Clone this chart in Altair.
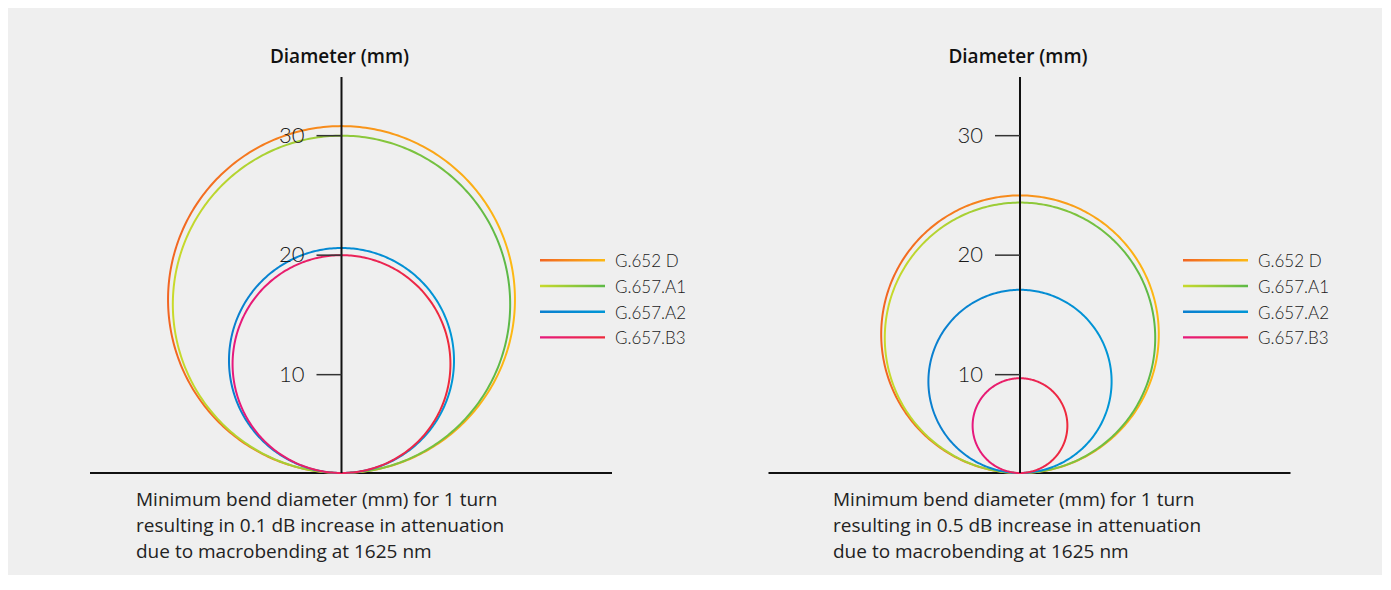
import altair as alt
import pandas as pd
import numpy as np

# ---- data ----
series = ["G.652 D", "G.657.A1", "G.657.A2", "G.657.B3"]
diam_01db = [30.8, 30.0, 20.6, 20.0]   # 0.1 dB panel (mm)
diam_05db = [25.0, 24.4, 17.1, 9.7]    # 0.5 dB panel (mm)
tick_values = [10, 20, 30]
axis_title = "Diameter (mm)"
caption_01 = ["Minimum bend diameter (mm) for 1 turn",
              "resulting in 0.1 dB increase in attenuation",
              "due to macrobending at 1625 nm"]
caption_05 = ["Minimum bend diameter (mm) for 1 turn",
              "resulting in 0.5 dB increase in attenuation",
              "due to macrobending at 1625 nm"]

# ---- styling ----
gradients = {
    "G.652 D": ("#f26522", "#fdb913"),
    "G.657.A1": ("#c9da2b", "#5cb947"),
    "G.657.A2": ("#0a7fcf", "#0096d6"),
    "G.657.B3": ("#e6197d", "#ee2a3c"),
}
BASE = 1.77
Y_DOMAIN = [BASE, 34.91]
X_DOMAIN = [-21.046, 22.636]
W, H = 522, 396
AXIS_PX = -X_DOMAIN[0] * W / (X_DOMAIN[1] - X_DOMAIN[0])
angles = np.linspace(0, 2 * np.pi, 361)


def grad(s):
    c0, c1 = gradients[s]
    return alt.Gradient(gradient="linear", x1=0, y1=0, x2=1, y2=0,
                        stops=[alt.GradientStop(offset=0, color=c0),
                               alt.GradientStop(offset=1, color=c1)])


def circle_df(diams):
    rows = []
    for s, d in zip(series, diams):
        for t in angles:
            rows.append({"series": s, "diameter": d, "t": float(t)})
    return pd.DataFrame(rows)


def panel(diams, caption, legend_x0, caption_x):
    df = circle_df(diams)
    xs = alt.Scale(domain=X_DOMAIN, nice=False, zero=False)
    ys = alt.Scale(domain=Y_DOMAIN, nice=False, zero=False)
    layers = []
    # baseline (x axis line)
    layers.append(
        alt.Chart(pd.DataFrame({"b": [BASE]}))
        .mark_rule(color="#111", strokeWidth=2)
        .encode(y=alt.Y("b:Q", scale=ys, axis=None), x=alt.value(0), x2=alt.value(W))
    )
    # circles
    for s in series:
        layers.append(
            alt.Chart(df)
            .transform_filter(alt.datum.series == s)
            .transform_calculate(r=f"(datum.diameter - {BASE}) / 2")
            .transform_calculate(cx="datum.r * sin(datum.t)",
                                 cy=f"{BASE} + datum.r * (1 - cos(datum.t))")
            .mark_line(stroke=grad(s), strokeWidth=2)
            .encode(x=alt.X("cx:Q", scale=xs, axis=None),
                    y=alt.Y("cy:Q", scale=ys, axis=None),
                    order=alt.Order("t:Q"))
        )
    # vertical axis line
    layers.append(
        alt.Chart(pd.DataFrame({"x0": [0]}))
        .mark_rule(color="#111", strokeWidth=2)
        .encode(x=alt.X("x0:Q", scale=xs, axis=None), y=alt.value(0), y2=alt.value(H))
    )
    ticks = pd.DataFrame({"v": tick_values})
    layers.append(
        alt.Chart(ticks)
        .mark_rule(color="#333", strokeWidth=1.5)
        .encode(y=alt.Y("v:Q", scale=ys, axis=None),
                x=alt.value(AXIS_PX - 25), x2=alt.value(AXIS_PX))
    )
    layers.append(
        alt.Chart(ticks)
        .mark_text(align="right", baseline="middle", font="Lato", fontSize=22,
                   fontWeight=300, color="#1a1a1a")
        .encode(y=alt.Y("v:Q", scale=ys, axis=None), x=alt.value(AXIS_PX - 37),
                text=alt.Text("v:Q"))
    )
    # axis title
    layers.append(
        alt.Chart(pd.DataFrame({"label": [axis_title], "x0": [0]}))
        .mark_text(font="Open Sans", fontSize=19, fontWeight=600, color="#111",
                   baseline="alphabetic", dx=-2)
        .encode(x=alt.X("x0:Q", scale=xs, axis=None), y=alt.value(-13.7), text="label:N")
    )
    # legend
    for i, s in enumerate(series):
        ly = 183.3 + i * 25.7
        layers.append(
            alt.Chart(pd.DataFrame({"series": [s]}))
            .mark_rect(fill=grad(s))
            .encode(x=alt.value(legend_x0), x2=alt.value(legend_x0 + 65),
                    y=alt.value(ly - 1.2), y2=alt.value(ly + 1.2))
        )
        layers.append(
            alt.Chart(pd.DataFrame({"series": [s]}))
            .mark_text(align="left", baseline="middle", font="Lato", fontSize=17,
                       fontWeight=300, color="#1a1a1a")
            .encode(x=alt.value(legend_x0 + 75), y=alt.value(ly + 2), text="series:N")
        )
    # caption
    layers.append(
        alt.Chart(pd.DataFrame({"caption": ["\n".join(caption)]}))
        .mark_text(lineBreak="\n", align="left", baseline="alphabetic", font="Open Sans",
                   fontSize=19, lineHeight=26, color="#222")
        .encode(x=alt.value(caption_x), y=alt.value(429), text="caption:N")
    )
    return alt.layer(*layers).properties(width=W, height=H)


left = panel(diam_01db, caption_01, 450, 46)
right = panel(diam_05db, caption_05, 414.5, 64.5)

chart = (
    alt.hconcat(left, right, spacing=156.5, bounds="flush")
    .properties(padding={"left": 80, "top": 39, "right": 52, "bottom": 12})
    .configure(background="#efefef")
    .configure_view(stroke="transparent")
)

chart.save("out.html", embed_options={"renderer": "svg", "actions": False})
